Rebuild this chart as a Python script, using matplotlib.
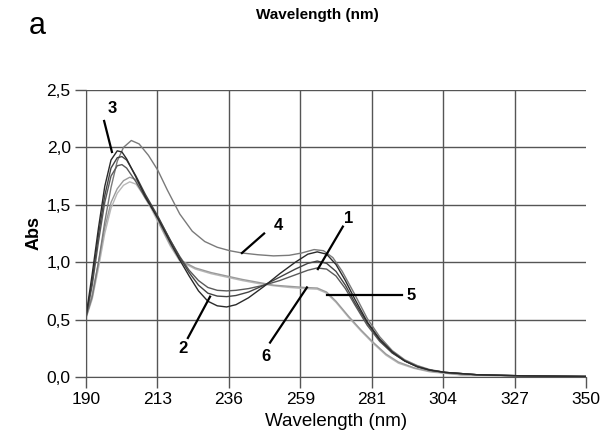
import numpy as np
import matplotlib
matplotlib.use("Agg")
import matplotlib.pyplot as plt

plt.rcParams["font.family"] = ["Liberation Sans", "DejaVu Sans"]

# UV spectra (wavelength nm, absorbance)
wl_1 = [190, 192, 194, 196, 198, 200, 201.5, 203, 206, 209, 213, 217, 220, 223, 226, 229, 232, 235,
        238, 242, 247, 252, 257, 261, 264, 267, 270, 273, 276, 280, 284, 288, 292, 296, 300, 305, 315, 330, 350]
abs_1 = [0.52, 0.80, 1.18, 1.52, 1.75, 1.84, 1.85, 1.82, 1.70, 1.56, 1.39, 1.19, 1.05, 0.93, 0.84, 0.78, 0.755, 0.75,
         0.755, 0.77, 0.80, 0.84, 0.89, 0.93, 0.95, 0.94, 0.88, 0.77, 0.63, 0.45, 0.31, 0.21, 0.14, 0.09, 0.06, 0.04, 0.02, 0.01, 0.005]
abs_2 = [0.52, 0.84, 1.24, 1.58, 1.82, 1.91, 1.92, 1.89, 1.75, 1.59, 1.40, 1.19, 1.04, 0.91, 0.80, 0.73, 0.705, 0.70,
         0.71, 0.74, 0.80, 0.87, 0.94, 0.99, 1.01, 0.99, 0.92, 0.80, 0.65, 0.47, 0.32, 0.21, 0.14, 0.09, 0.06, 0.04, 0.02, 0.01, 0.005]
abs_3 = [0.53, 0.90, 1.30, 1.66, 1.89, 1.97, 1.96, 1.90, 1.74, 1.57, 1.38, 1.17, 1.02, 0.88, 0.75, 0.66, 0.62, 0.61,
         0.63, 0.69, 0.79, 0.90, 1.00, 1.07, 1.09, 1.07, 0.98, 0.84, 0.68, 0.48, 0.33, 0.22, 0.14, 0.09, 0.06, 0.04, 0.02, 0.01, 0.005]

wl_4 = [190, 192, 194, 196, 198, 200, 202, 204.5, 207, 210, 213, 216, 220, 224, 228, 232, 236, 240, 245,
        250, 255, 259, 263, 266, 269, 272, 276, 280, 284, 288, 292, 296, 300, 305, 315, 330, 350]
abs_4 = [0.52, 0.70, 1.00, 1.35, 1.65, 1.88, 2.00, 2.06, 2.03, 1.93, 1.80, 1.63, 1.42, 1.27, 1.18, 1.13, 1.10, 1.08, 1.065,
         1.055, 1.06, 1.08, 1.11, 1.10, 1.04, 0.92, 0.72, 0.51, 0.35, 0.23, 0.15, 0.10, 0.065, 0.04, 0.02, 0.01, 0.005]

wl_56 = [190, 192, 194, 196, 198, 200, 202, 204, 206, 208, 211, 214, 217, 220, 225, 230, 235, 240, 245,
         250, 255, 260, 264, 267, 270, 274, 278, 282, 286, 290, 295, 300, 310, 330, 350]
abs_5 = [0.52, 0.72, 1.00, 1.30, 1.52, 1.64, 1.71, 1.74, 1.72, 1.63, 1.48, 1.31, 1.15, 1.02, 0.95, 0.91, 0.88, 0.85, 0.825,
         0.80, 0.79, 0.78, 0.775, 0.74, 0.66, 0.53, 0.41, 0.30, 0.20, 0.13, 0.08, 0.05, 0.02, 0.008, 0.004]
abs_6 = [0.51, 0.68, 0.95, 1.25, 1.47, 1.60, 1.67, 1.70, 1.68, 1.60, 1.46, 1.30, 1.14, 1.01, 0.94, 0.90, 0.87, 0.84, 0.815,
         0.795, 0.78, 0.77, 0.765, 0.73, 0.65, 0.52, 0.40, 0.29, 0.19, 0.12, 0.075, 0.045, 0.018, 0.007, 0.003]

x_ticks = np.linspace(190, 350, 8)
x_tick_labels = ["190", "213", "236", "259", "281", "304", "327", "350"]
y_ticks = [0.0, 0.5, 1.0, 1.5, 2.0, 2.5]
y_tick_labels = ["0,0", "0,5", "1,0", "1,5", "2,0", "2,5"]

# label text position, leader start, leader end
curve_labels = [
    ("3", (198.3, 2.34), (195.8, 2.23), (198.3, 1.96)),
    ("4", (251.6, 1.32), (247.0, 1.25), (239.9, 1.08)),
    ("1", (274.0, 1.38), (272.2, 1.31), (264.2, 0.94)),
    ("5", (294.0, 0.71), (291.1, 0.71), (267.1, 0.71)),
    ("2", (221.0, 0.25), (222.6, 0.34), (229.7, 0.70)),
    ("6", (247.6, 0.18), (248.9, 0.30), (260.7, 0.78)),
]

fig = plt.figure(figsize=(6.01, 4.32), dpi=100)
ax = fig.add_axes([0.1431, 0.1273, 0.8319, 0.6644])

ax.plot(wl_56, abs_6, color="#b8b8b8", lw=1.0)
ax.plot(wl_56, abs_5, color="#9a9a9a", lw=1.0)
ax.plot(wl_4, abs_4, color="#7a7a7a", lw=1.0)
ax.plot(wl_1, abs_1, color="#5a5a5a", lw=1.0)
ax.plot(wl_1, abs_2, color="#444444", lw=1.0)
ax.plot(wl_1, abs_3, color="#2a2a2a", lw=1.0)

for txt, pos, start, end in curve_labels:
    ax.plot([start[0], end[0]], [start[1], end[1]], color="black", lw=1.6)
    ax.text(pos[0], pos[1], txt, fontsize=12, fontweight="bold", ha="center", va="center")

ax.set_xlim(190, 350)
ax.set_ylim(0, 2.5)
ax.set_xticks(x_ticks)
ax.set_xticklabels(x_tick_labels)
ax.set_yticks(y_ticks)
ax.set_yticklabels(y_tick_labels)
ax.tick_params(axis="both", direction="out", length=8, width=1, color="#555555",
               labelsize=12.5, pad=3)

ax.grid(True, color="#555555", lw=1.0)
ax.set_axisbelow(True)
ax.xaxis.get_gridlines()[-1].set_visible(False)
for side in ["top", "right"]:
    ax.spines[side].set_visible(False)
for side in ["left", "bottom"]:
    ax.spines[side].set_color("#555555")

ax.set_xlabel("Wavelength (nm)", fontsize=13.5, labelpad=4)
ax.set_ylabel("Abs", fontsize=13, fontweight="bold", labelpad=3)

fig.text(0.528, 0.966, "Wavelength (nm)", fontsize=11, fontweight="bold",
         family=["Liberation Sans Narrow", "Liberation Sans"], ha="center", va="center")
fig.text(0.062, 0.94, "a", fontsize=22, ha="center", va="center")

fig.savefig("out.png", dpi=100)
